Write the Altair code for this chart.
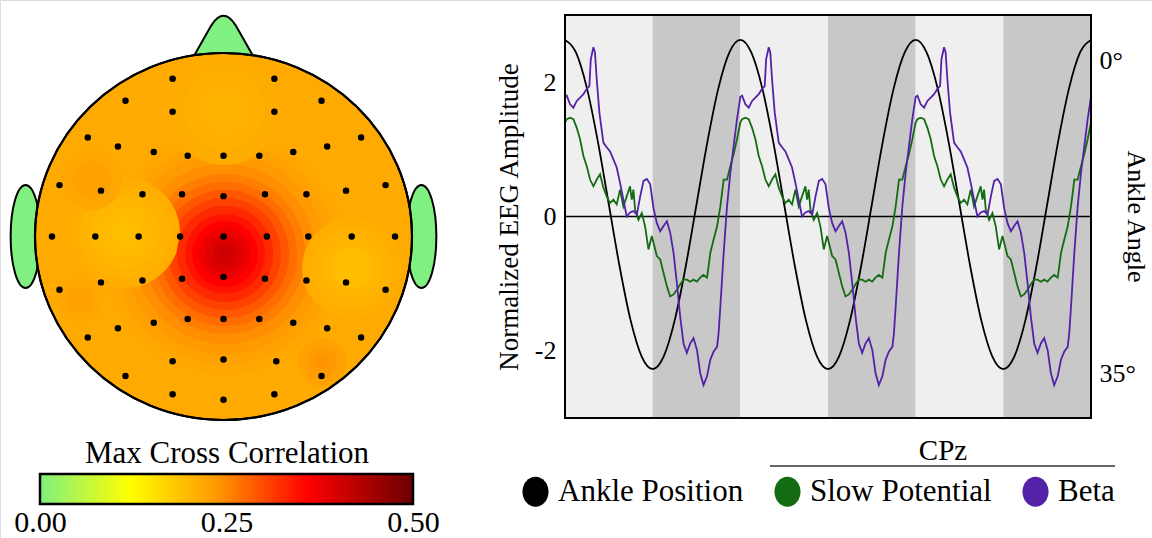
import altair as alt
import numpy as np
import pandas as pd

SERIF = "Liberation Serif"

# ---------------- data: topographic map ----------------
# electrode positions in head units (centre 0,0 ; x to the right, y to the nose)
ELEC_X = [-0.27, 0.27,
          -0.52, -0.27, 0.27, 0.52,
          -0.72, -0.56, -0.37, -0.19, 0.00, 0.19, 0.37, 0.55, 0.73,
          -0.87, -0.65, -0.43, -0.22, 0.00, 0.22, 0.44, 0.65, 0.86,
          -0.91, -0.68, -0.45, -0.23, 0.00, 0.23, 0.45, 0.68, 0.91,
          -0.87, -0.65, -0.43, -0.22, 0.00, 0.22, 0.44, 0.65, 0.86,
          -0.72, -0.56, -0.37, -0.19, 0.00, 0.19, 0.37, 0.55, 0.73,
          -0.52, -0.27, 0.00, 0.28, 0.52,
          -0.27, 0.00, 0.27]
ELEC_Y = [0.86, 0.86,
          0.74, 0.68, 0.68, 0.74,
          0.54, 0.49, 0.46, 0.44, 0.44, 0.44, 0.46, 0.49, 0.54,
          0.28, 0.25, 0.23, 0.23, 0.22, 0.23, 0.23, 0.25, 0.28,
          0.00, 0.00, 0.00, 0.00, 0.00, 0.00, 0.00, 0.00, 0.00,
          -0.29, -0.25, -0.24, -0.23, -0.22, -0.23, -0.24, -0.25, -0.29,
          -0.55, -0.50, -0.47, -0.45, -0.45, -0.45, -0.47, -0.50, -0.55,
          -0.76, -0.68, -0.67, -0.68, -0.76,
          -0.86, -0.89, -0.86]

HEAD_BASE = 0.216          # background correlation over the scalp
# correlation "blobs": centre, ring radii (head units) and values
BLOB_X = [0.008, -0.523, 0.682, 0.003, -0.698, -0.761, 0.523]
BLOB_Y = [-0.095, 0.020, -0.172, 0.690, 0.308, -0.346, -0.684]
BLOB_R = [[0.637, 0.584, 0.531, 0.477, 0.424, 0.382, 0.340, 0.297, 0.255,
           0.212, 0.175, 0.138, 0.101, 0.064, 0.032],
          [0.292, 0.239, 0.186, 0.133, 0.080],
          [0.265, 0.212, 0.159, 0.106, 0.053],
          [0.292, 0.212, 0.133, 0.064],
          [0.160, 0.100],
          [0.120, 0.070],
          [0.127, 0.080, 0.037]]
BLOB_V = [[0.220, 0.226, 0.234, 0.245, 0.259, 0.273, 0.290, 0.308, 0.327,
           0.345, 0.361, 0.376, 0.390, 0.401, 0.408],
          [0.212, 0.207, 0.202, 0.198, 0.195],
          [0.212, 0.207, 0.201, 0.196, 0.192],
          [0.214, 0.211, 0.207, 0.204],
          [0.221, 0.226],
          [0.221, 0.226],
          [0.226, 0.234, 0.241]]
EAR_X = [-1.05, 1.05]
EAR_Y = [0.0, 0.0]
NOSE_X = [0.0]
NOSE_Y = [1.098]

CBAR_TICKS = [0.0, 0.25, 0.5]
COLOR_STOPS = [0.0, 0.12, 0.24, 0.36, 0.5]
COLOR_RANGE = ["#80f080", "#ffff00", "#ff9500", "#ff0000", "#6b0000"]

# ---------------- data: time course (one gait cycle, % of cycle) ----------------
ANKLE_T = [0, 6.25, 12.5, 18.75, 25, 31.25, 37.5, 43.75,
           50, 56.25, 62.5, 68.75, 75, 81.25, 87.5, 93.75]
ANKLE_DEG = [-2.35, -0.95, 3.04, 9.01, 16.05, 23.09, 29.06, 33.05,
             34.45, 33.05, 29.06, 23.09, 16.05, 9.01, 3.04, -0.95]

T_SLOW = [0, 1, 2.9, 4.8, 6.7, 8.6, 10.5, 12.4, 14.3, 16.2,
          18.1, 20.0, 21.9, 23.8, 25.7, 27.6, 29.5, 31.4, 33.3, 35.2,
          37.1, 38.1, 39.0, 40.0, 41.9, 43.8, 45.7, 47.6, 49.5, 50.5,
          52.4, 54.3, 56.2, 58.1, 60.0, 61.9, 63.8, 65.7, 67.6, 69.5,
          71.4, 73.3, 75.2, 77.1, 79.0, 81.0, 81.9, 82.9, 84.8, 86.7,
          88.6, 90.5, 92.4, 94.3, 96.2, 98.1]
V_SLOW = [1.40, 1.45, 1.47, 1.45, 1.32, 1.15, 0.90, 0.75, 0.55, 0.45,
          0.55, 0.63, 0.43, 0.30, 0.20, 0.25, 0.18, 0.40, 0.15, 0.30,
          0.45, 0.25, 0.40, 0.10, -0.05, 0.05, -0.15, -0.49, -0.29, -0.39,
          -0.59, -0.64, -0.84, -1.04, -1.19, -1.16, -1.09, -1.01, -0.94, -0.94,
          -0.97, -0.94, -0.97, -0.91, -0.87, -0.91, -0.74, -0.54, -0.34, -0.15,
          0.15, 0.55, 0.55, 0.75, 0.93, 1.15]
T_BETA = [0, 1, 2.9, 4.8, 6.7, 8.6, 10.5, 12.4, 13.9, 14.7,
          16.2, 17.1, 18.1, 19.6, 21.9, 23.8, 25.7, 27.6, 29.5, 31.4,
          33.3, 35.2, 37.1, 39.0, 41.0, 42.9, 44.8, 46.7, 48.6, 50.5,
          52.4, 54.3, 56.2, 58.1, 60.0, 61.9, 63.8, 65.7, 67.6, 69.5,
          71.4, 73.3, 75.3, 77.1, 79.0, 81.0, 82.9, 84.8, 86.7, 87.6,
          88.6, 90.5, 92.4, 94.3, 96.2, 98.1]
V_BETA = [1.78, 1.80, 1.67, 1.62, 1.72, 1.77, 1.82, 1.90, 1.94, 2.34,
          2.52, 2.44, 2.04, 1.55, 1.10, 1.03, 0.97, 0.85, 0.73, 0.50,
          0.25, 0.00, 0.06, 0.08, 0.03, 0.30, 0.53, 0.56, 0.48, 0.12,
          -0.10, -0.22, -0.14, -0.07, -0.24, -0.54, -0.99, -1.49, -1.89, -2.03,
          -1.89, -1.81, -1.99, -2.33, -2.51, -2.38, -2.13, -2.01, -1.94, -1.74,
          -1.34, -0.54, 0.15, 0.65, 1.05, 1.45]
N_CYCLES = 3
BAND_START = [0, 50, 100, 150, 200, 250]
BAND_END = [50, 100, 150, 200, 250, 300]
BAND_PHASE = ["to 35°", "to 0°", "to 35°", "to 0°", "to 35°", "to 0°"]
SERIES = ["Ankle Position", "Slow Potential", "Beta"]
SERIES_COLORS = ["#000000", "#146c12", "#5322a8"]
EEG_TICKS = [-2, 0, 2]
ANGLE_TICKS = [0, 35]

# ---------------- tables ----------------
def repeat_cycle(ts, vs, name):
    xs, ys = [], []
    for c in range(N_CYCLES):
        xs += [100 * c + t for t in ts]
        ys += list(vs)
    xs.append(100 * N_CYCLES)
    ys.append(vs[0])
    return pd.DataFrame({"x": xs, "v": ys, "series": name})

eeg_df = pd.concat([repeat_cycle(T_SLOW, V_SLOW, "Slow Potential"),
                    repeat_cycle(T_BETA, V_BETA, "Beta")], ignore_index=True)
ank = repeat_cycle(ANKLE_T, ANKLE_DEG, "Ankle Position").rename(columns={"v": "deg"})
bands_df = pd.DataFrame({"x0": BAND_START, "x1": BAND_END, "phase": BAND_PHASE,
                         "lo": -3, "hi": 3})
frame_df = pd.DataFrame({"x0": [0], "x1": [300], "lo": [-3], "hi": [3]})
zero_df = pd.DataFrame({"x0": [0], "x1": [300], "y": [0]})

elec_df = pd.DataFrame({"x": ELEC_X, "y": ELEC_Y})
rings = []
for bx, by, rr, vv in zip(BLOB_X, BLOB_Y, BLOB_R, BLOB_V):
    for r, v in zip(rr, vv):
        rings.append({"x": bx, "y": by, "r": r, "v": v})
rings_df = pd.DataFrame(rings)
head_df = pd.DataFrame({"x": [0.0], "y": [0.0], "v": [HEAD_BASE]})
ear_df = pd.DataFrame({"x": EAR_X, "y": EAR_Y})
nose_df = pd.DataFrame({"x": NOSE_X, "y": NOSE_Y})

cb_v = np.round(np.arange(0, 0.5, 0.0025), 5)
cbar_df = pd.DataFrame({"x0": cb_v, "x1": np.minimum(cb_v + 0.004, 0.5),
                        "c": cb_v + 0.00125, "lo": 0, "hi": 1})
cbox_df = pd.DataFrame({"x0": [0.0], "x1": [0.5], "lo": [0], "hi": [1]})

# ---------------- shapes / scales (layout) ----------------
def ellipse_path(a, b):
    k = 0.5523
    return (f"M0,{-b} C{a*k:.4f},{-b} {a},{-b*k:.4f} {a},0 "
            f"C{a},{b*k:.4f} {a*k:.4f},{b} 0,{b} "
            f"C{-a*k:.4f},{b} {-a},{b*k:.4f} {-a},0 "
            f"C{-a},{-b*k:.4f} {-a*k:.4f},{-b} 0,{-b} Z")

HEAD_W = 377
HEAD_SHAPE = ellipse_path(1, 0.9735)
EAR_SHAPE = ellipse_path(0.29, 1)
NOSE_SHAPE = "M-1.1,0.9 L-0.4,-0.33 Q0,-0.95 0.4,-0.33 L1.1,0.9 Z"
LEG_SHAPE = ellipse_path(0.87, 1)
SKIN = "#80f080"

HX = alt.Scale(domain=[-1, 1], range=[35, 412], nice=False, zero=False)
HY = alt.Scale(domain=[-1, 1], range=[420, 53], nice=False, zero=False)
HSIZE = alt.Scale(type="pow", exponent=2, domain=[0, 1], range=[0, HEAD_W ** 2], nice=False)
CSCALE = alt.Scale(domain=COLOR_STOPS, range=COLOR_RANGE, interpolate="rgb")

LX = alt.Scale(domain=[0, 300], range=[565, 1091], nice=False, zero=False)
LY = alt.Scale(domain=[-3, 3], range=[418, 15], nice=False, zero=False)
AY = alt.Scale(domain=[-5.14, 39.92], range=[15, 418], nice=False, zero=False)
CBX = alt.Scale(domain=[0, 0.5], range=[40, 413], nice=False, zero=False)
CBY = alt.Scale(domain=[0, 1], range=[504, 474], nice=False, zero=False)

def hx(f="x"):
    return alt.X(f"{f}:Q", scale=HX, axis=None)

def hy(f="y"):
    return alt.Y(f"{f}:Q", scale=HY, axis=None)

# ---------------- right panel ----------------
bands = alt.Chart(bands_df).mark_rect(strokeWidth=0).encode(
    x=alt.X("x0:Q", scale=LX, axis=None), x2="x1:Q",
    y=alt.Y("lo:Q", scale=LY, axis=None), y2="hi:Q",
    fill=alt.Fill("phase:N", scale=alt.Scale(domain=["to 35°", "to 0°"],
                                              range=["#efefef", "#c8c8c8"]), legend=None))

zero = alt.Chart(zero_df).mark_rule(color="black", strokeWidth=1.6).encode(
    x=alt.X("x0:Q", scale=LX, axis=None), x2="x1:Q",
    y=alt.Y("y:Q", scale=LY, axis=None))

ankle = alt.Chart(ank).mark_line(color="black", strokeWidth=1.8, interpolate="monotone").encode(
    x=alt.X("x:Q", scale=LX, axis=None),
    y=alt.Y("deg:Q", scale=AY, axis=alt.Axis(
        orient="right", offset=1085 - 1152, values=ANGLE_TICKS,
        labelExpr="datum.value + '°'", tickSize=6, tickWidth=1.5, tickColor="black",
        domain=False, grid=False, labelFont=SERIF, labelFontSize=26, labelColor="black",
        labelPadding=8, title="Ankle Angle", titleFont=SERIF, titleFontSize=26,
        titleFontWeight="normal", titleColor="black", titleAngle=90,
        titleX=50, titleY=216, titleAlign="center", titleBaseline="middle")))

eeg = alt.Chart(eeg_df).mark_line(strokeWidth=1.8).encode(
    x=alt.X("x:Q", scale=LX, axis=None),
    y=alt.Y("v:Q", scale=LY, axis=alt.Axis(
        orient="left", offset=-571, values=EEG_TICKS, labelExpr="'' + datum.value",
        tickSize=6, tickWidth=1.5, tickColor="black", domain=False, grid=False,
        labelFont=SERIF, labelFontSize=26, labelColor="black", labelPadding=9,
        title="Normalized EEG Amplitude", titleFont=SERIF, titleFontSize=27,
        titleFontWeight="normal", titleColor="black", titlePadding=11)),
    color=alt.Color("series:N", scale=alt.Scale(domain=SERIES, range=SERIES_COLORS), legend=None),
    detail="series:N")

frame = alt.Chart(frame_df).mark_rect(fillOpacity=0, stroke="black", strokeWidth=2).encode(
    x=alt.X("x0:Q", scale=LX, axis=None), x2="x1:Q",
    y=alt.Y("lo:Q", scale=LY, axis=None), y2="hi:Q")

legend_carrier = alt.Chart(alt.Data(values=[])).mark_circle(opacity=1).encode(
    color=alt.Color("series:N", scale=alt.Scale(domain=SERIES, range=SERIES_COLORS),
                    legend=alt.Legend(orient="none", legendX=520, legendY=476,
                                      direction="horizontal", title=None,
                                      symbolType=LEG_SHAPE, symbolSize=900,
                                      symbolStrokeWidth=0, symbolOpacity=1,
                                      labelFont=SERIF, labelFontSize=31, labelColor="black",
                                      labelOffset=7, columnPadding=28, padding=0,
                                      labelLimit=0)))

cpz_text = alt.Chart(pd.DataFrame({"label": ["CPz"]})).mark_text(
    font=SERIF, fontSize=29, color="black", align="center", baseline="middle").encode(
    text="label:N", x=alt.value(943), y=alt.value(451))
cpz_rule = alt.Chart(pd.DataFrame({"k": [0]})).mark_rule(color="#333333", strokeWidth=1.5).encode(
    x=alt.value(770), x2=alt.value(1115), y=alt.value(466))

# ---------------- left panel ----------------
ears = alt.Chart(ear_df).mark_point(shape=EAR_SHAPE, filled=True, size=103 ** 2, fill=SKIN,
                                    stroke="black", strokeWidth=2, opacity=1).encode(x=hx(), y=hy())
nose = alt.Chart(nose_df).mark_point(shape=NOSE_SHAPE, filled=True, size=60 ** 2, fill=SKIN,
                                     stroke="black", strokeWidth=2, opacity=1).encode(x=hx(), y=hy())
head = alt.Chart(head_df).mark_point(shape=HEAD_SHAPE, filled=True, size=HEAD_W ** 2,
                                     stroke="black", strokeWidth=2, opacity=1).encode(
    x=hx(), y=hy(), color=alt.Color("v:Q", scale=CSCALE, legend=None))
heat = alt.Chart(rings_df).mark_circle(opacity=1, strokeWidth=0).encode(
    x=hx(), y=hy(),
    size=alt.Size("r:Q", scale=HSIZE, legend=None),
    color=alt.Color("v:Q", scale=CSCALE, legend=None),
    order=alt.Order("r:Q", sort="descending"))
dots = alt.Chart(elec_df).mark_circle(size=42, color="black", opacity=1).encode(x=hx(), y=hy())
outline = alt.Chart(head_df).mark_point(shape=HEAD_SHAPE, filled=False, size=HEAD_W ** 2,
                                        stroke="black", strokeWidth=2.2, opacity=1).encode(x=hx(), y=hy())

cbar = alt.Chart(cbar_df).mark_rect(strokeWidth=0).encode(
    x=alt.X("x0:Q", scale=CBX, axis=alt.Axis(
        orient="bottom", offset=-34, values=CBAR_TICKS, format=".2f", ticks=False,
        domain=False, grid=False, labelFont=SERIF, labelFontSize=30, labelColor="black",
        labelPadding=3, labelFlush=False, title=None)),
    x2="x1:Q",
    y=alt.Y("lo:Q", scale=CBY, axis=None), y2="hi:Q",
    color=alt.Color("c:Q", scale=CSCALE, legend=None))
cbox = alt.Chart(cbox_df).mark_rect(fillOpacity=0, stroke="black", strokeWidth=2.5).encode(
    x=alt.X("x0:Q", scale=CBX, axis=alt.Axis(
        orient="top", offset=-474, labels=False, ticks=False, domain=False, grid=False,
        title="Max Cross Correlation", titleFont=SERIF, titleFontSize=31,
        titleFontWeight="normal", titleColor="black", titlePadding=5)),
    x2="x1:Q",
    y=alt.Y("lo:Q", scale=CBY, axis=None), y2="hi:Q")

chart = alt.layer(
    bands, zero, ankle, eeg, frame,
    ears, nose, head, heat, dots, outline,
    cbar, cbox,
    legend_carrier, cpz_text, cpz_rule,
).resolve_scale(
    x="independent", y="independent", color="independent", size="independent", fill="independent"
).resolve_axis(x="independent", y="independent").resolve_legend(color="independent").properties(
    width=1152, height=538, autosize=alt.AutoSizeParams(type="none"), padding=0
).configure_view(stroke=None).configure(background="white")

chart.save("out.html", embed_options={"renderer": "svg", "actions": False})
